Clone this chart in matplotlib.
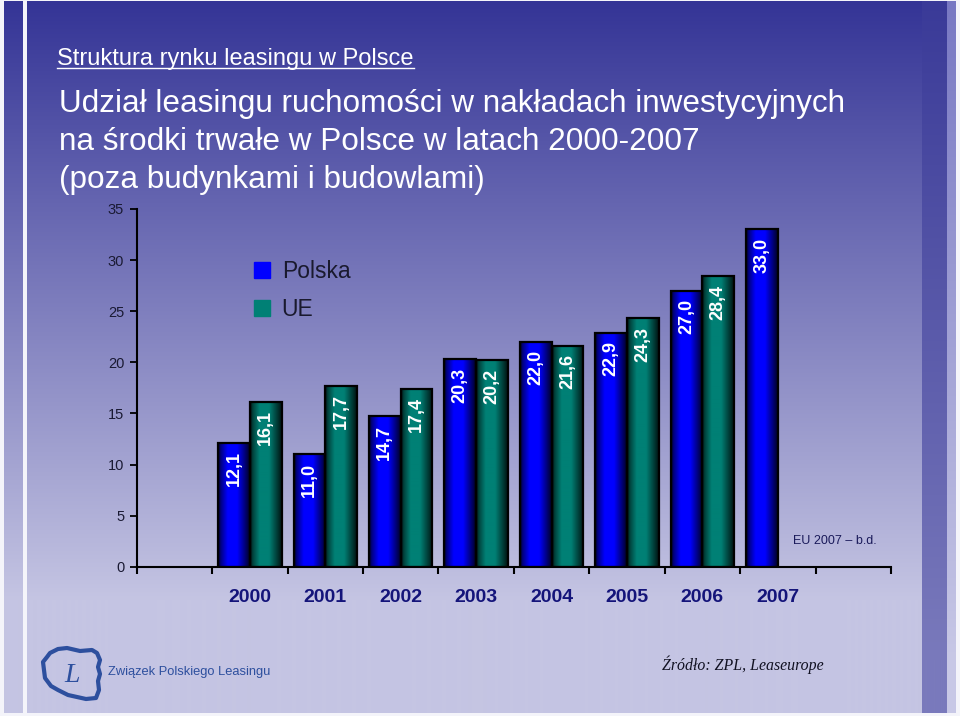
import numpy as np
import matplotlib
matplotlib.use('Agg')
import matplotlib.pyplot as plt
from matplotlib.lines import Line2D
from matplotlib.patches import Rectangle, Polygon

plt.rcParams['font.family'] = ['Liberation Sans', 'DejaVu Sans']

# ---- data ----
years = ['2000', '2001', '2002', '2003', '2004', '2005', '2006', '2007']
polska = [12.1, 11.0, 14.7, 20.3, 22.0, 22.9, 27.0, 33.0]
ue = [16.1, 17.7, 17.4, 20.2, 21.6, 24.3, 28.4, None]
series_names = ['Polska', 'UE']
series_colors = ['#0000ff', '#008075']
y_ticks = [0, 5, 10, 15, 20, 25, 30, 35]

subtitle = 'Struktura rynku leasingu w Polsce'
title_lines = ['Udział leasingu ruchomości w nakładach inwestycyjnych',
               'na środki trwałe w Polsce w latach 2000-2007',
               '(poza budynkami i budowlami)']
note = 'EU 2007 – b.d.'
source = 'Źródło: ZPL, Leaseurope'
org_name = 'Związek Polskiego Leasingu'

W, H = 960, 716
fig = plt.figure(figsize=(W / 100, H / 100), dpi=100)

# ---- background (pixel coordinates) ----
bg = fig.add_axes([0, 0, 1, 1], zorder=0)
bg.set_xlim(0, W)
bg.set_ylim(H, 0)
bg.axis('off')

def vgrad(top, bot, end):
    t = np.clip(np.arange(H) / end, 0, 1)
    top = np.array(top) / 255.0
    bot = np.array(bot) / 255.0
    return (top[None, :] + (bot - top)[None, :] * t[:, None])[:, None, :]

bg.imshow(vgrad((52, 52, 150), (197, 197, 227), 600), extent=[0, W, H, 0],
          aspect='auto', interpolation='bilinear', zorder=0)
bg.imshow(vgrad((58, 58, 152), (122, 122, 188), 660), extent=[922, 947, H, 0],
          aspect='auto', interpolation='bilinear', zorder=1)
bg.imshow(vgrad((120, 120, 195), (200, 200, 230), 660), extent=[947, 956, H, 0],
          aspect='auto', interpolation='bilinear', zorder=1)
for (x0, y0, w, h) in [(0, 0, 4, H), (23, 0, 4, H), (956, 0, 4, H), (0, 0, W, 1), (0, 713, W, 3)]:
    bg.add_patch(Rectangle((x0, y0), w, h, facecolor='#f4f4fa', edgecolor='none', zorder=2))
bg.set_xlim(0, W)
bg.set_ylim(H, 0)

# ---- titles ----
st = bg.text(57, 65, subtitle, color='white', fontsize=17, va='baseline', ha='left', zorder=5)
for line, yb in zip(title_lines, [112, 150, 188]):
    bg.text(59, yb, line, color='white', fontsize=22.7, va='baseline', ha='left', zorder=5)

# ---- footer ----
bg.text(108, 672, org_name, color='#2d4f9e', fontsize=9.3, va='center', ha='left', zorder=5)
outline = [(50, 653), (58, 649), (67, 648), (80, 651), (92, 650), (97, 653), (100, 660),
           (98, 667), (100, 674), (98, 681), (99, 690), (96, 698), (86, 699), (77, 697),
           (68, 695), (58, 690), (51, 686), (45, 678), (44, 670), (43, 662), (47, 657)]
bg.add_patch(Polygon(outline, closed=True, facecolor='none', edgecolor='#2d4f9e',
                     lw=3, joinstyle='round', zorder=5))
bg.text(72, 675, 'L', color='#2d4f9e', fontsize=20, style='italic',
        family=['Liberation Serif'], va='center', ha='center', zorder=5)
bg.text(662, 670, source, color='#111122', fontsize=11.4, style='italic',
        family=['Liberation Serif'], va='baseline', ha='left', zorder=5)

# ---- main chart ----
x0p, x1p, y0p, y35p = 136.7, 891.0, 566.7, 209.0
ax = fig.add_axes([x0p / W, (H - y0p) / H, (x1p - x0p) / W, (y0p - y35p) / H], zorder=1)
ax.patch.set_alpha(0)

x = np.arange(1, len(years) + 1)
bw = 0.42

def shade(base, n=64):
    t = np.linspace(0, 1, n)
    f = np.interp(t, [0, 0.08, 0.3, 0.6, 0.86, 1], [0.12, 0.5, 1.0, 1.0, 0.45, 0.15])
    base = np.array(matplotlib.colors.to_rgb(base))
    return (base[None, :] * f[:, None])[None, :, :]

groups = []
px = [xi - bw / 2 for xi in x]
groups.append((px, polska))
ux = [xi + bw / 2 for xi, v in zip(x, ue) if v is not None]
uv = [v for v in ue if v is not None]
groups.append((ux, uv))

for (gx, gv), col in zip(groups, series_colors):
    bars = ax.bar(gx, gv, bw, facecolor='none', edgecolor='black', lw=1.6, zorder=3)
    img = shade(col)
    for rect, v in zip(bars, gv):
        rx, rw, rh = rect.get_x(), rect.get_width(), rect.get_height()
        ax.imshow(img, extent=[rx, rx + rw, 0, rh], aspect='auto',
                  interpolation='bilinear', zorder=2)
        ax.annotate(f'{v:.1f}'.replace('.', ','), (rx + rw / 2, rh), xytext=(0, -6),
                    textcoords='offset points', rotation=90, ha='center', va='top',
                    color='white', fontsize=13, fontweight='bold', zorder=4)

ax.set_xlim(-0.5, len(years) + 1.5)
ax.set_ylim(0, 35)
ax.set_yticks(y_ticks)
ax.set_xticks(x)
ax.set_xticklabels(years, fontweight='bold')
ax.set_xticks(np.arange(-0.5, len(years) + 2, 1), minor=True)
ax.tick_params(axis='x', which='major', length=0, pad=16, labelsize=14, labelcolor='#14147a')
ax.tick_params(axis='x', which='minor', length=5, width=1.5, direction='out', color='black')
ax.tick_params(axis='y', length=5, width=1.3, pad=4, labelsize=10.5, labelcolor='#1a1a33')
for s in ['top', 'right']:
    ax.spines[s].set_visible(False)
for s in ['left', 'bottom']:
    ax.spines[s].set_linewidth(1.5)
    ax.spines[s].set_color('black')

ax.text(len(years) + 0.75, 2.5, note, fontsize=9, color='#1a1a5a', ha='center', va='center')

handles = [Line2D([], [], marker='s', ls='none', ms=11, mfc=c, mec=c) for c in series_colors]
ax.legend(handles, series_names, loc='center left', bbox_to_anchor=(253, 290.5),
          bbox_transform=bg.transData, frameon=False, fontsize=16.5, labelcolor='#1a1a2e',
          handlelength=0.8, handletextpad=0.45, labelspacing=0.68, borderpad=0, borderaxespad=0)

# underline for subtitle
fig.canvas.draw()
r = fig.canvas.get_renderer()
bb = st.get_window_extent(r)
bg.plot([bb.x0, bb.x1], [68, 68], color='white', lw=1.0, zorder=5)
bg.set_xlim(0, W)
bg.set_ylim(H, 0)

fig.savefig('out.png', dpi=100)
